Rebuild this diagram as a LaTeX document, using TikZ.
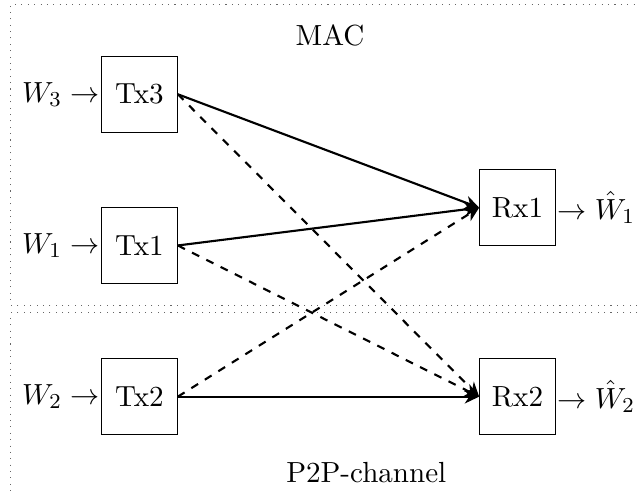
\documentclass[tikz,border=0pt]{standalone}
\usetikzlibrary{arrows.meta}
\begin{document}
\begin{tikzpicture}[
  every node/.style={font=\fontsize{10.95pt}{13.6pt}\selectfont},
  blk/.style={draw, thin, minimum size=1cm, inner sep=2pt},
  lbl/.style={inner sep=0.5pt},
  link/.style={thick, -{Stealth[length=1.9mm,width=1.8mm,inset=0.6mm]}},
  cross/.style={link, dashed},
  region/.style={draw, dotted, gray!80!black}
]
\useasboundingbox (-1.845,-3.30) rectangle (6.594,3.247);
\draw[region] (6.75,-0.79) -- (-1.70,-0.79) -- (-1.70,3.19) -- (6.75,3.19);
\draw[region] (6.75,-0.89) -- (-1.70,-0.89) -- (-1.70,-3.45);

\node[blk] (tx3) at (0,2) {Tx3};
\node[blk] (tx1) at (0,0) {Tx1};
\node[blk] (tx2) at (0,-2) {Tx2};
\node[blk] (rx1) at (5,0.5) {Rx1};
\node[blk] (rx2) at (5,-2) {Rx2};

\node[lbl, anchor=east] (w3) at (tx3.west) {$W_3\rightarrow$};
\node[lbl, anchor=east] (w1) at (tx1.west) {$W_1\rightarrow$};
\node[lbl, anchor=east] (w2) at (tx2.west) {$W_2\rightarrow$};
\node[lbl, anchor=west] (w1h) at (rx1.east) {$\rightarrow\hat{W}_1$};
\node[lbl, anchor=west] (w2h) at (rx2.east) {$\rightarrow\hat{W}_2$};

\node (mac) at (2.52,2.78) {MAC};
\node (p2p) at (3.0,-3.0) {P2P-channel};

\draw[link] (tx3.east) -- (rx1.west);
\draw[link] (tx1.east) -- (rx1.west);
\draw[cross] (tx2.east) -- (rx1.west);
\draw[cross] (tx3.east) -- (rx2.west);
\draw[cross] (tx1.east) -- (rx2.west);
\draw[link] (tx2.east) -- (rx2.west);
\end{tikzpicture}
\end{document}
